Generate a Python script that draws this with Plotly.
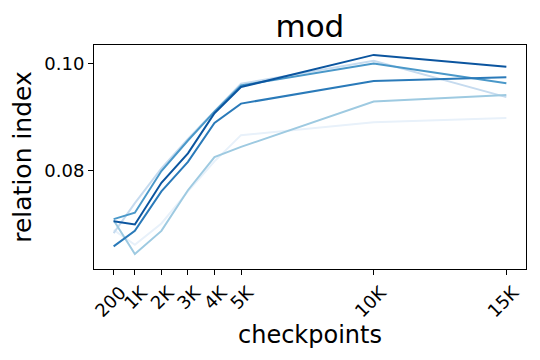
import plotly.graph_objects as go

checkpoints = [200, 1000, 2000, 3000, 4000, 5000, 10000, 15000]
tick_labels = ["200", "1K", "2K", "3K", "4K", "5K", "10K", "15K"]

# one series per run, lightest to darkest
run_very_pale = [0.0690, 0.0662, 0.0702, 0.0762, 0.0818, 0.0867, 0.0891, 0.0899]
run_pale = [0.0684, 0.0740, 0.0805, 0.0860, 0.0912, 0.0963, 0.1006, 0.0938]
run_light = [0.0708, 0.0645, 0.0688, 0.0764, 0.0826, 0.0845, 0.0930, 0.0942]
run_medium = [0.0710, 0.0722, 0.0800, 0.0857, 0.0911, 0.0960, 0.1001, 0.0964]
run_mid_dark = [0.0659, 0.0688, 0.0762, 0.0817, 0.0890, 0.0926, 0.0968, 0.0975]
run_dark = [0.0706, 0.0700, 0.0778, 0.0833, 0.0908, 0.0957, 0.1017, 0.0995]

series = [
    (run_very_pale, "#e8f1fa"),
    (run_pale, "#c6dbef"),
    (run_light, "#9ecae1"),
    (run_medium, "#4a98c9"),
    (run_mid_dark, "#2a7ab9"),
    (run_dark, "#0b559f"),
]

fig = go.Figure()
for values, color in series:
    fig.add_trace(go.Scatter(
        x=checkpoints, y=values, mode="lines",
        line=dict(color=color, width=2),
        showlegend=False,
    ))

axis_style = dict(
    showline=True, linecolor="black", linewidth=1, mirror=True,
    ticks="outside", ticklen=5, tickcolor="black",
    showgrid=False, zeroline=False, automargin=False,
)

# page body adds ~8px offset, so margins are shifted to compensate
fig.update_layout(
    width=540, height=360,
    margin=dict(l=86, r=22, t=37, b=99),
    plot_bgcolor="white", paper_bgcolor="white",
    font=dict(family="DejaVu Sans", color="black"),
    title=dict(text="mod", x=0.559, xanchor="center", y=0.95, yanchor="middle",
               font=dict(size=31)),
)
fig.update_xaxes(
    range=[-540, 15740],
    tickvals=checkpoints, ticktext=tick_labels,
    tickangle=-45, tickfont=dict(size=18), ticklabelshift=7,
    title=dict(text="checkpoints", font=dict(size=24), standoff=2),
    **axis_style,
)
fig.update_yaxes(
    range=[0.06168, 0.10355],
    tickvals=[0.08, 0.10], ticktext=["0.08", "0.10"],
    tickfont=dict(size=18),
    title=dict(text="relation index", font=dict(size=25), standoff=6),
    **axis_style,
)

fig.write_html("out.html")
